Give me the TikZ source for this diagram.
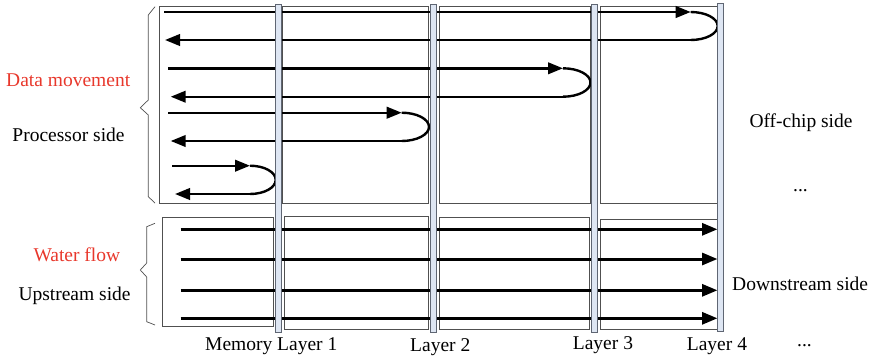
\documentclass[tikz,border=0pt]{standalone}
\usepackage{fontspec}
\setmainfont{Liberation Serif}
\usetikzlibrary{arrows.meta}
\definecolor{boxgray}{RGB}{80,80,80}
\definecolor{barfill}{RGB}{222,230,243}
\definecolor{barline}{RGB}{95,102,115}
\definecolor{lblred}{RGB}{232,56,44}
\begin{document}
\begin{tikzpicture}[x=1pt,y=-1pt,
  panel/.style={draw=boxgray, line width=0.8pt},
  layerbar/.style={draw=barline, fill=barfill, line width=0.9pt},
  dataline/.style={line width=2.4pt, -{Triangle[length=15pt,width=11.5pt]}},
  turnline/.style={line width=2.4pt},
  waterline/.style={line width=3pt, -{Triangle[length=15.5pt,width=12pt]}},
  bracket/.style={draw=boxgray, line width=0.7pt},
  lbl/.style={font=\fontsize{19.5}{22}\selectfont, inner sep=0pt, anchor=base west},
  redlbl/.style={lbl, text=lblred}]
\useasboundingbox (0,0) rectangle (875,357);

% panels (top)
\draw[panel] (159.3,6.7) rectangle (275,203);
\draw[panel] (282.7,6.7) rectangle (428.3,203);
\draw[panel] (439,6.7) rectangle (590,203);
\draw[panel] (600.3,6.7) rectangle (717.7,203);
% panels (bottom)
\draw[panel] (162.3,217.3) rectangle (273.3,326.7);
\draw[panel] (284,216.3) rectangle (428.3,329.3);
\draw[panel] (439.3,217.7) rectangle (589,329.3);
\draw[panel] (600,219) rectangle (718.3,329.3);

% data movement coordinates
\coordinate (a1) at (164,12);    \coordinate (b1) at (690.7,12);
\coordinate (c1) at (690.7,40);  \coordinate (d1) at (165,40);
\coordinate (a2) at (168,68.3);  \coordinate (b2) at (563,68.3);
\coordinate (c2) at (563,96.7);  \coordinate (d2) at (170.7,96.7);
\coordinate (a3) at (168.3,112.7); \coordinate (b3) at (401.7,112.7);
\coordinate (c3) at (401.7,141);   \coordinate (d3) at (170.7,141);
\coordinate (a4) at (172.3,165.7); \coordinate (b4) at (250,165.7);
\coordinate (c4) at (250,194);     \coordinate (d4) at (175,194);

\draw[dataline] (a1) -- (b1);
\draw[turnline] (b1) arc[start angle=90,end angle=-90,x radius=27pt,y radius=14pt];
\draw[dataline] (c1) -- (d1);
\draw[dataline] (a2) -- (b2);
\draw[turnline] (b2) arc[start angle=90,end angle=-90,x radius=27.5pt,y radius=14.2pt];
\draw[dataline] (c2) -- (d2);
\draw[dataline] (a3) -- (b3);
\draw[turnline] (b3) arc[start angle=90,end angle=-90,x radius=27.3pt,y radius=14.15pt];
\draw[dataline] (c3) -- (d3);
\draw[dataline] (a4) -- (b4);
\draw[turnline] (b4) arc[start angle=90,end angle=-90,x radius=25.7pt,y radius=14.15pt];
\draw[dataline] (c4) -- (d4);

% water flow
\coordinate (w1s) at (180.7,229.3); \coordinate (w1e) at (717.5,229.3);
\coordinate (w2s) at (180.7,259);   \coordinate (w2e) at (717.5,259);
\coordinate (w3s) at (180.7,290.3); \coordinate (w3e) at (717.5,290.3);
\coordinate (w4s) at (180.7,318.3); \coordinate (w4e) at (717.5,318.3);
\draw[waterline] (w1s) -- (w1e);
\draw[waterline] (w2s) -- (w2e);
\draw[waterline] (w3s) -- (w3e);
\draw[waterline] (w4s) -- (w4e);

% layer bars
\draw[layerbar] (275.3,4) rectangle (281.3,332);
\draw[layerbar] (430.7,4.3) rectangle (436.7,332.5);
\draw[layerbar] (591.7,4.3) rectangle (597.7,332.5);
\draw[layerbar] (717.9,3.5) rectangle (723.9,331);

% brackets
\draw[bracket] (155,6.7) -- (148.3,15) -- (148.3,100) -- (140.3,107.7) -- (148.3,115) -- (148.3,196.7) -- (155,203);
\draw[bracket] (155,223.3) -- (146.7,226.7) -- (146.7,263) -- (140.3,270) -- (146.7,277) -- (146.7,321.7) -- (155,325);

% labels
\node[redlbl] (tdata) at (6,86.7) {Data movement};
\node[lbl] (tproc) at (12.3,141.7) {Processor side};
\node[redlbl] (twater) at (33.3,261.7) {Water flow};
\node[lbl] (tup) at (18.3,300) {Upstream side};
\node[lbl] (toff) at (749.3,127.7) {Off-chip side};
\node[lbl] (tdots1) at (793,191) {...};
\node[lbl] (tdown) at (732,290) {Downstream side};
\node[lbl] (tdots2) at (797,346.7) {...};
\node[lbl] (tmem) at (205,350.7) {Memory Layer 1};
\node[lbl] (tl2) at (410,351.7) {Layer 2};
\node[lbl] (tl3) at (572.7,349.3) {Layer 3};
\node[lbl] (tl4) at (686.7,350) {Layer 4};
\end{tikzpicture}
\end{document}
